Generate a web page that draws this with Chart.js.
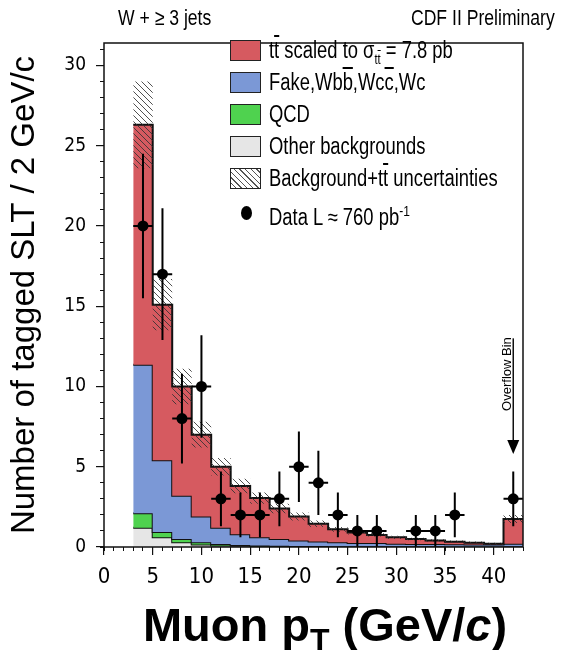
<!DOCTYPE html>
<html>
<head>
<meta charset="utf-8">
<script src="https://cdn.jsdelivr.net/npm/chart.js@4"></script>
<style>
  html, body { margin: 0; padding: 0; background: #fff; }
  #wrap { position: relative; width: 564px; height: 650px; overflow: hidden; }
  .squeeze { font-family: "Liberation Sans", Arial, sans-serif; color: #000; transform: scaleX(0.8); white-space: nowrap; }
  .hdr { position: absolute; top: 5px; font-size: 22px; }
  #legend { position: absolute; left: 230px; top: 40px; font-size: 23px; }
  #legend .row { position: absolute; left: 0; height: 24px; white-space: nowrap; }
  #legend .box { position: absolute; left: 0; top: 0; width: 29px; height: 19px; border: 1.5px solid #222; }
  #legend .txt { position: absolute; left: 39px; top: -2px; line-height: 24px; transform-origin: 0 50%; }
  #legend .dot { position: absolute; left: 11px; top: 5px; width: 11px; height: 14px; border-radius: 50%; background: #000; }
  .ov { text-decoration: overline; }
  #xtitle { position: absolute; left: 0; width: 650px; top: 597px; text-align: center;
            font-family: "Liberation Sans", Arial, sans-serif; font-weight: bold; font-size: 47px; white-space: nowrap; }
  #xtitle sub { font-size: 32px; vertical-align: -10px; line-height: 0; }
</style>
</head>
<body>
<div id="wrap">
  <canvas id="chart" width="564" height="650"></canvas>
  <div class="hdr squeeze" style="left:118px;transform-origin:0 50%">W + &ge; 3 jets</div>
  <div class="hdr squeeze" style="right:9px;transform-origin:100% 50%">CDF II Preliminary</div>
  <div id="legend">
    <div class="row" style="top:0px"><div class="box" style="background:#d65a60"></div><div class="txt squeeze">t<span class="ov">t</span> scaled to &sigma;<sub style="font-size:14px">t<span class="ov">t</span></sub> = 7.8 pb</div></div>
    <div class="row" style="top:32px"><div class="box" style="background:#7b98d6"></div><div class="txt squeeze">Fake,Wb<span class="ov">b</span>,Wc<span class="ov">c</span>,Wc</div></div>
    <div class="row" style="top:64px"><div class="box" style="background:#4fd24f"></div><div class="txt squeeze">QCD</div></div>
    <div class="row" style="top:96px"><div class="box" style="background:#e6e6e6"></div><div class="txt squeeze">Other backgrounds</div></div>
    <div class="row" style="top:128px"><div class="box" style="background:repeating-linear-gradient(45deg,#fff 0 3px,#555 3px 4px)"></div><div class="txt squeeze">Background+t<span class="ov">t</span> uncertainties</div></div>
    <div class="row" style="top:161px"><div class="dot"></div><div class="txt squeeze">Data L &asymp; 760 pb<sup style="font-size:15px">-1</sup></div></div>
  </div>
  <div id="xtitle">Muon p<sub>T</sub> (GeV/<i>c</i>)</div>
</div>
<script>
// 2 GeV/c bins from 3 to 43 (last bin = overflow)
const binEdges = [3, 5, 7, 9, 11, 13, 15, 17, 19, 21, 23, 25, 27, 29, 31, 33, 35, 37, 39, 41, 43];
const otherBkg = [1.2, 0.6, 0.3, 0.15, 0.1, 0.08, 0.05, 0.05, 0.04, 0.04, 0.03, 0.03, 0.03, 0.02, 0.02, 0.02, 0.02, 0.02, 0.02, 0.02];
const qcdBkg = [0.9, 0.33, 0.2, 0.15, 0.08, 0.05, 0.04, 0.03, 0.03, 0.02, 0.02, 0.02, 0.02, 0.02, 0.02, 0.02, 0.01, 0.01, 0.01, 0.02];
const fakeWbb = [9.25, 4.47, 2.7, 1.6, 1.02, 0.67, 0.51, 0.42, 0.33, 0.29, 0.25, 0.2, 0.2, 0.16, 0.14, 0.14, 0.14, 0.13, 0.12, 0.16];
const ttbar = [14.95, 9.7, 6.8, 5.1, 3.8, 3.0, 2.45, 1.9, 1.5, 1.1, 0.8, 0.65, 0.5, 0.4, 0.32, 0.22, 0.16, 0.11, 0.05, 1.55];
const bandErr = [2.7, 1.6, 1.1, 0.8, 0.55, 0.45, 0.35, 0.3, 0.25, 0.2, 0.15, 0.12, 0.1, 0.1, 0.08, 0.08, 0.07, 0.07, 0.06, 0.25];

const dataX = [4, 6, 8, 10, 12, 14, 16, 18, 20, 22, 24, 26, 28, 30, 32, 34, 36, 38, 40, 42];
const dataN = [20, 17, 8, 10, 3, 2, 2, 3, 5, 4, 2, 1, 1, 0, 1, 1, 2, 0, 0, 3];
const dataErr = [4.5, 4.1, 2.8, 3.2, 1.7, 1.4, 1.4, 1.7, 2.2, 2.0, 1.4, 1.0, 1.0, 0, 1.0, 1.0, 1.4, 0, 0, 1.7];

const xTickStep = 5;
const yTickStep = 5;
const overflowMark = { x: 42, tip: 5.8, top: 13.0, label: "Overflow Bin" };

const tickFont = "'DejaVu Sans Condensed', 'Liberation Sans Narrow', sans-serif";

function addArr(a, b) { return a.map((v, i) => v + b[i]); }
const cumOther = otherBkg;
const cumQcd = addArr(cumOther, qcdBkg);
const cumFake = addArr(cumQcd, fakeWbb);
const cumTotal = addArr(cumFake, ttbar);
const bandLo = cumTotal.map((v, i) => v - bandErr[i]);
const bandHi = cumTotal.map((v, i) => v + bandErr[i]);

function steps(values) {
  return binEdges.map((x, i) => ({ x, y: values[Math.min(i, values.length - 1)] }));
}

const points = [];
const errSegs = [];
dataX.forEach((x, i) => {
  const n = dataN[i];
  if (!n) return;
  points.push({ x, y: n });
  errSegs.push({ x, y: n - dataErr[i] }, { x, y: n + dataErr[i] }, { x, y: null });
  errSegs.push({ x: x - 1, y: n }, { x: x + 1, y: n }, { x, y: null });
});

function hatchPattern() {
  const c = document.createElement("canvas");
  c.width = 6; c.height = 6;
  const g = c.getContext("2d");
  g.strokeStyle = "rgba(50,50,50,0.85)";
  g.lineWidth = 1;
  g.beginPath();
  g.moveTo(0, 0); g.lineTo(6, 6);
  g.moveTo(-1, 5); g.lineTo(1, 7);
  g.moveTo(5, -1); g.lineTo(7, 1);
  g.stroke();
  return g.createPattern(c, "repeat");
}

const stepStyle = { stepped: "before", pointRadius: 0, borderColor: "#111", borderWidth: 2 };

const framePlugin = {
  id: "frame",
  afterDraw(chart) {
    const { ctx, chartArea: a, scales } = chart;
    ctx.save();
    ctx.strokeStyle = "#111";
    ctx.lineWidth = 1.5;
    ctx.strokeRect(a.left, a.top, a.right - a.left, a.bottom - a.top);

    // overflow bin arrow
    const x = scales.x.getPixelForValue(overflowMark.x);
    const yTip = scales.y.getPixelForValue(overflowMark.tip);
    const yTop = scales.y.getPixelForValue(overflowMark.top);
    ctx.beginPath();
    ctx.moveTo(x, yTop);
    ctx.lineTo(x, yTip - 12);
    ctx.stroke();
    ctx.fillStyle = "#000";
    ctx.beginPath();
    ctx.moveTo(x - 6, yTip - 14);
    ctx.lineTo(x + 6, yTip - 14);
    ctx.lineTo(x, yTip);
    ctx.closePath();
    ctx.fill();
    ctx.translate(x - 2, yTip - 43);
    ctx.rotate(-Math.PI / 2);
    ctx.font = "13px 'Liberation Sans', Arial, sans-serif";
    ctx.textAlign = "left";
    ctx.textBaseline = "alphabetic";
    ctx.fillText(overflowMark.label, 0, 0);
    ctx.restore();
  }
};

new Chart(document.getElementById("chart"), {
  type: "line",
  data: {
    datasets: [
      { label: "Data", data: points, showLine: false, pointRadius: 5.5, pointBackgroundColor: "#000", pointBorderColor: "#000", borderWidth: 0 },
      { label: "errors", data: errSegs, borderColor: "#000", borderWidth: 2, pointRadius: 0, spanGaps: false },
      { label: "band hi", data: steps(bandHi), stepped: "before", pointRadius: 0, borderColor: "transparent", borderWidth: 0, fill: 3, backgroundColor: hatchPattern() },
      { label: "band lo", data: steps(bandLo), stepped: "before", pointRadius: 0, borderColor: "transparent", borderWidth: 0, fill: false },
      { label: "ttbar", data: steps(cumTotal), ...stepStyle, fill: 5, backgroundColor: "#d65a60" },
      { label: "fake", data: steps(cumFake), ...stepStyle, fill: 6, backgroundColor: "#7b98d6" },
      { label: "qcd", data: steps(cumQcd), ...stepStyle, fill: 7, backgroundColor: "#4fd24f" },
      { label: "other", data: steps(cumOther), ...stepStyle, fill: "origin", backgroundColor: "#e6e6e6" }
    ]
  },
  options: {
    responsive: false,
    animation: false,
    events: [],
    layout: { padding: { top: 43, right: 41, left: 0, bottom: 0 } },
    plugins: { legend: { display: false }, tooltip: { enabled: false } },
    scales: {
      x: {
        type: "linear", min: 0, max: 43, weight: 1,
        grid: { display: true, drawOnChartArea: false, tickLength: 8, color: "#111", lineWidth: 1.2 },
        border: { display: false },
        ticks: { stepSize: xTickStep, includeBounds: false, padding: 9, color: "#000", font: { family: tickFont, size: 22 } },
        afterFit(s) { s.height = 103; }
      },
      xMinor: {
        type: "linear", position: "bottom", min: 0, max: 43, weight: 0,
        grid: { display: true, drawOnChartArea: false, tickLength: 4, color: "#111", lineWidth: 1 },
        border: { display: false },
        ticks: { stepSize: 1, includeBounds: false, display: false },
        afterFit(s) { s.height = 0; }
      },
      y: {
        type: "linear", min: 0, max: 31.4, weight: 1,
        grid: { display: true, drawOnChartArea: false, tickLength: 8, color: "#111", lineWidth: 1.2 },
        border: { display: false },
        ticks: { stepSize: yTickStep, includeBounds: false, padding: 10, color: "#000", font: { family: tickFont, size: 19 } },
        title: { display: true, text: "Number of tagged SLT / 2 GeV/c", color: "#000", padding: { top: 5, bottom: 0 },
                 font: { family: "'Liberation Sans', Arial, sans-serif", size: 33 } },
        afterFit(s) { s.width = 104; }
      },
      yMinor: {
        type: "linear", position: "left", min: 0, max: 31.4, weight: 0,
        grid: { display: true, drawOnChartArea: false, tickLength: 4, color: "#111", lineWidth: 1 },
        border: { display: false },
        ticks: { stepSize: 1, includeBounds: false, display: false },
        afterFit(s) { s.width = 0; }
      }
    }
  },
  plugins: [framePlugin]
});
</script>
</body>
</html>
